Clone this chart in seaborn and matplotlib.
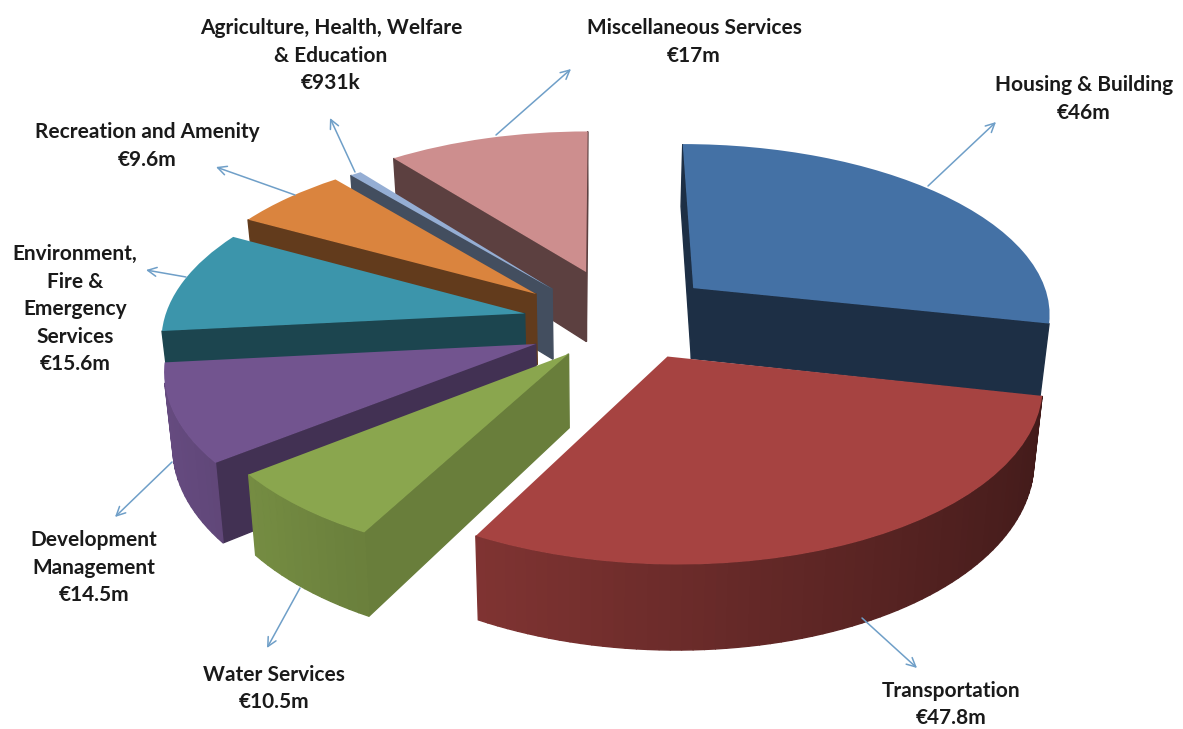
import numpy as np
import seaborn as sns
import matplotlib.pyplot as plt
from matplotlib.patches import Polygon
from matplotlib.transforms import Transform

names = [
    "Housing & Building",
    "Transportation",
    "Water Services",
    "Development\nManagement",
    "Environment,\nFire &\nEmergency\nServices",
    "Recreation and Amenity",
    "Agriculture, Health, Welfare\n& Education",
    "Miscellaneous Services",
]
amounts = [46, 47.8, 10.5, 14.5, 15.6, 9.6, 0.931, 17]
amount_labels = ["€46m", "€47.8m", "€10.5m", "€14.5m", "€15.6m", "€9.6m", "€931k", "€17m"]

top_colors = ["#4471a5", "#a64341", "#8aa64e", "#72548f", "#3c95ab", "#da843e", "#95aed4", "#cd8e8e"]
# how dark the straight cut face is against the top colour
cut_shade = [0.42, 0.5, 0.76, 0.58, 0.46, 0.45, 0.45, 0.45]
# slice offsets in pie units
explode_x = [0.265, 0.182, -0.085, -0.175, -0.21, -0.181, -0.136, -0.04]
explode_y = [0.18, -0.22, -0.205, -0.15, 0.027, 0.144, 0.175, 0.28]
# back slices get drawn first
draw_order = [7, 6, 5, 4, 0, 3, 2, 1]

label_x = [1084, 951, 274, 94, 75, 147, 331, 694]
label_top = [85, 691, 675, 540, 254, 132, 28, 28]
arrow_from = [(928, 186), (862, 618), (300, 588), (172, 462), (186, 277), (295, 195), (355, 172), (496, 135)]
arrow_to = [(996, 122), (917, 668), (267, 648), (115, 517), (146, 270), (216, 167), (330, 118), (571, 69)]

CX, CY = 600, 318
KX, KY = 360, 170
PERSP = 0.13
DEPTH = 72
TAPER = 0.02  # bottom of the pie pulls in a little towards the middle


class PieView(Transform):
    input_dims = 2
    output_dims = 2
    has_inverse = False

    def transform_non_affine(self, xy):
        xy = np.asarray(xy, dtype=float)
        w = 1 + PERSP * xy[:, 1]
        return np.column_stack([CX + KX * xy[:, 0] / w, CY - KY * xy[:, 1] / w])


def shade(color, f):
    return tuple(np.array(sns.desaturate(color, 1)) * f)


sns.set_theme(style="white")
plt.rcParams["font.family"] = ["Lato", "DejaVu Sans"]

fig = plt.figure(figsize=(11.83, 7.29), dpi=100)
ax = fig.add_axes([0, 0, 1, 1])

wedges, _ = ax.pie(amounts, colors=sns.color_palette(top_colors), startangle=90, counterclock=False)
ax.set_aspect("auto")
ax.set_xlim(0, 1183)
ax.set_ylim(729, 0)
ax.axis("off")

view = PieView()


def side_face(a, b, color, z):
    # a and b are pie points, going round the slice anticlockwise
    ends = view.transform(np.array([a, b]))
    wa = 1 + PERSP * a[1]
    wb = 1 + PERSP * b[1]
    low_a = ends[0] + [(CX - ends[0][0]) * TAPER, DEPTH / wa]
    low_b = ends[1] + [(CX - ends[1][0]) * TAPER, DEPTH / wb]
    quad = np.array([ends[0], ends[1], low_b, low_a])
    x, y = quad[:, 0], quad[:, 1]
    area = np.sum(x * np.roll(y, -1) - np.roll(x, -1) * y)
    if area <= 0:
        return
    ax.add_patch(Polygon(quad, closed=True, facecolor=color, edgecolor=color, lw=1, zorder=z, clip_on=False))


for rank, i in enumerate(draw_order):
    wedge = wedges[i]
    wedge.set_center((explode_x[i], explode_y[i]))
    wedge.set_transform(view + ax.transData)
    wedge.set_zorder(rank * 10 + 5)
    wedge.set_clip_on(False)
    wedge.set_linewidth(0)

    c = np.array(wedge.center)
    t1, t2 = np.radians(wedge.theta1), np.radians(wedge.theta2)
    cut = shade(top_colors[i], cut_shade[i])
    side_face(c, c + [np.cos(t1), np.sin(t1)], cut, rank * 10)
    side_face(c + [np.cos(t2), np.sin(t2)], c, cut, rank * 10)
    steps = np.linspace(t1, t2, max(2, int(np.degrees(t2 - t1) / 1.5)))
    for s1, s2 in zip(steps[:-1], steps[1:]):
        rim_x = np.cos((s1 + s2) / 2)
        side_face(c + [np.cos(s1), np.sin(s1)], c + [np.cos(s2), np.sin(s2)],
                  shade(top_colors[i], 0.65 - 0.25 * rim_x), rank * 10)

for i in range(len(names)):
    ax.annotate("", xy=arrow_to[i], xytext=arrow_from[i], zorder=200,
                arrowprops=dict(arrowstyle="->", color="#6f9fc8", lw=1.1, mutation_scale=16,
                                shrinkA=0, shrinkB=0))
    lines = names[i].split("\n") + [amount_labels[i]]
    for n, line in enumerate(lines):
        ax.text(label_x[i], label_top[i] + n * 27.5, line, ha="center", va="center",
                fontsize=15, fontweight="bold", color="#1a1a1a", zorder=210)

fig.savefig("out.png", dpi=100)
